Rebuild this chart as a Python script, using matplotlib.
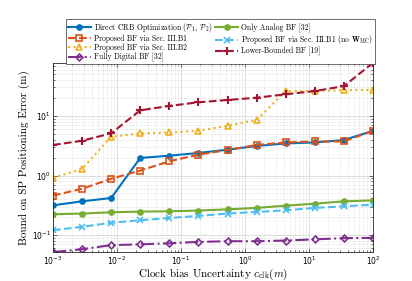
import numpy as np
import matplotlib
matplotlib.use("Agg")
import matplotlib.pyplot as plt

plt.rcParams["font.family"] = "sans-serif"
plt.rcParams["mathtext.fontset"] = "cm"
plt.rcParams["axes.formatter.use_mathtext"] = True

# clock bias uncertainty (m)
c_clk = [1e-3, 2.85e-3, 8.1e-3, 2.31e-2, 6.58e-2, 0.187, 0.534, 1.52, 4.33, 12.3, 35.1, 100]

crb_opt = [0.316, 0.369, 0.419, 1.97, 2.15, 2.39, 2.71, 3.13, 3.45, 3.59, 3.94, 5.62]
bf_b1 = [0.46, 0.60, 0.88, 1.21, 1.73, 2.24, 2.68, 3.25, 3.59, 3.73, 3.73, 5.62]
bf_b2 = [0.91, 1.29, 4.47, 5.07, 5.27, 5.62, 6.81, 8.57, 26.1, 26.1, 27.1, 27.1]
full_dig = [0.052, 0.058, 0.068, 0.070, 0.073, 0.077, 0.079, 0.079, 0.081, 0.085, 0.089, 0.090]
analog = [0.224, 0.230, 0.242, 0.248, 0.251, 0.258, 0.271, 0.286, 0.312, 0.337, 0.369, 0.383]
bf_b1_nomc = [0.121, 0.138, 0.161, 0.178, 0.194, 0.210, 0.230, 0.245, 0.261, 0.286, 0.304, 0.324]
lower_bf = [3.25, 3.83, 5.1, 12.4, 14.7, 16.9, 18.5, 20.2, 23.0, 26.1, 31.6, 77.3]

fig = plt.figure(figsize=(4.12, 2.81), dpi=100)
ax = fig.add_axes([0.1286, 0.103, 0.7767, 0.673])

lw = 1.5
ms = 3.8
ax.plot(c_clk, crb_opt, "-o", color="#0072BD", lw=lw, ms=ms, mfc="#0072BD",
        label=r"Direct CRB Optimization ($\mathcal{P}_1$, $\mathcal{P}_2$)")
ax.plot(c_clk, bf_b1, "--s", color="#D95319", lw=lw, ms=ms, mfc="none", mew=1.2,
        label="Proposed BF via Sec. III.B1")
ax.plot(c_clk, bf_b2, ":^", color="#EDB120", lw=lw, ms=4.8, mfc="none", mew=1.2,
        label="Proposed BF via Sec. III.B2")
ax.plot(c_clk, full_dig, "-.D", color="#7E2F8E", lw=lw, ms=3.5, mfc="none", mew=1.2,
        label="Fully Digital BF [32]")
ax.plot(c_clk, analog, "-o", color="#77AC30", lw=lw, ms=ms, mfc="#77AC30",
        label="Only Analog BF [32]")
ax.plot(c_clk, bf_b1_nomc, "--x", color="#4DBEEE", lw=lw, ms=ms, mew=1.2,
        label=r"Proposed BF via Sec. III.B1 (no $\mathbf{W}_{\rm MC}$)")
ax.plot(c_clk, lower_bf, "--+", color="#A2142F", lw=lw, ms=5.8, mew=1.5,
        label="Lower-Bounded BF [19]")

ax.set_xscale("log")
ax.set_yscale("log")
ax.set_xlim(1e-3, 1e2)
ax.set_ylim(min(full_dig), max(lower_bf))
ax.set_xticks([1e-3, 1e-2, 1e-1, 1e0, 1e1, 1e2])
ax.set_yticks([1e-1, 1e0, 1e1])

ax.grid(True, which="major", color="#d8d8d8", lw=0.6)
ax.grid(True, which="minor", color="#d0d0d0", lw=0.5, ls=":")
ax.set_axisbelow(True)
ax.tick_params(which="both", direction="in", top=True, right=True, labelsize=5.5,
               color="#333333", width=0.5, pad=1.5)
ax.tick_params(which="major", length=3)
ax.tick_params(which="minor", length=1.6)
for s in ax.spines.values():
    s.set_color("#262626")
    s.set_linewidth(0.6)

ax.set_xlabel(r"Clock bias Uncertainty $c_{\rm clk}(m)$", fontsize=8, labelpad=0)
ax.set_ylabel("Bound on SP Positioning Error (m)", fontsize=8, labelpad=1)
for lbl in [ax.xaxis.label, ax.yaxis.label]:
    lbl.set_fontfamily(["cmr10", "DejaVu Serif"])

leg = ax.legend(ncol=2, loc="upper left", bbox_to_anchor=(0.15, 0.947),
                bbox_transform=fig.transFigure,
                prop={"family": ["cmr10", "DejaVu Serif"], "size": 5.5},
                fancybox=False, framealpha=1, edgecolor="#333333",
                handlelength=3.0, columnspacing=0.4, handletextpad=0.4,
                labelspacing=0.08, borderpad=0.3)
leg.get_frame().set_linewidth(0.5)

fig.savefig("out.png", dpi=100)
